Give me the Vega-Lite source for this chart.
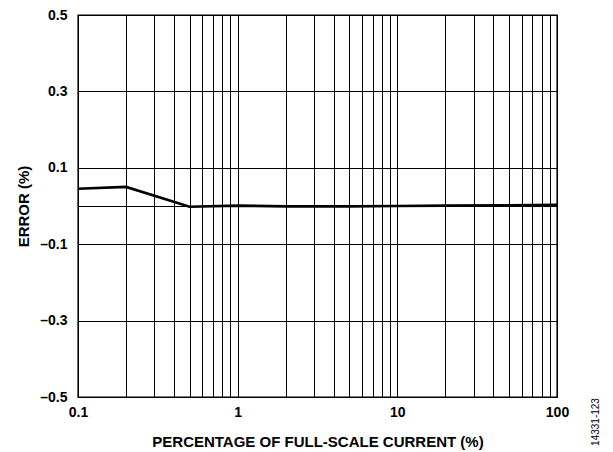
{
  "$schema": "https://vega.github.io/schema/vega-lite/v6.json",
  "width": 479,
  "height": 382,
  "autosize": {"type": "none"},
  "padding": {"left": 78, "top": 15, "right": 56, "bottom": 55},
  "background": "white",
  "config": {
    "font": "Liberation Sans",
    "view": {"stroke": "black", "strokeWidth": 1.4},
    "axis": {
      "labelFont": "Liberation Sans",
      "titleFont": "Liberation Sans",
      "labelFontWeight": "bold",
      "titleFontWeight": "bold",
      "labelFontSize": 14,
      "titleFontSize": 15,
      "labelColor": "black",
      "titleColor": "black",
      "gridColor": "black",
      "gridOpacity": 1,
      "gridWidth": 1,
      "ticks": false,
      "domain": false
    }
  },
  "layer": [
    {
      "data": {
        "values": [
          {"pct": 0.1, "err": 0.045},
          {"pct": 0.2, "err": 0.05},
          {"pct": 0.5, "err": -0.002},
          {"pct": 1, "err": 0.001},
          {"pct": 2, "err": -0.001},
          {"pct": 5, "err": -0.001},
          {"pct": 10, "err": 0.0},
          {"pct": 20, "err": 0.001},
          {"pct": 50, "err": 0.002},
          {"pct": 100, "err": 0.003}
        ]
      },
      "mark": {"type": "line", "color": "black", "strokeWidth": 2.6},
      "encoding": {
        "x": {
          "field": "pct",
          "type": "quantitative",
          "scale": {"type": "log", "domain": [0.1, 100], "nice": false},
          "axis": {
            "title": "PERCENTAGE OF FULL-SCALE CURRENT (%)",
            "values": [0.1, 0.2, 0.3, 0.4, 0.5, 0.6, 0.7, 0.8, 0.9, 1, 2, 3, 4, 5, 6, 7, 8, 9, 10, 20, 30, 40, 50, 60, 70, 80, 90, 100],
            "labelExpr": "indexof(['0.1','1','10','100'], format(datum.value, '')) >= 0 ? format(datum.value, '') : ''",
            "labelPadding": 8,
            "titlePadding": 15,
            "labelFlush": false,
            "labelOverlap": false
          }
        },
        "y": {
          "field": "err",
          "type": "quantitative",
          "scale": {"domain": [-0.5, 0.5], "nice": false, "zero": false},
          "axis": {
            "title": "ERROR (%)",
            "values": [-0.5, -0.3, -0.1, 0, 0.1, 0.3, 0.5],
            "labelExpr": "datum.value == 0 ? '' : (datum.value < 0 ? '–' + format(-datum.value, '.1f') : format(datum.value, '.1f'))",
            "labelPadding": 11,
            "titlePadding": 8,
            "labelFlush": false,
            "labelOverlap": false
          }
        }
      }
    },
    {
      "data": {"values": [{"pct": 100, "err": -0.5, "label": "14331-123"}]},
      "mark": {"type": "text", "angle": -90, "font": "Liberation Sans", "fontSize": 10, "color": "black", "align": "center", "baseline": "middle", "dx": -25, "dy": 39},
      "encoding": {
        "x": {"field": "pct", "type": "quantitative"},
        "y": {"field": "err", "type": "quantitative"},
        "text": {"field": "label"}
      }
    }
  ]
}
